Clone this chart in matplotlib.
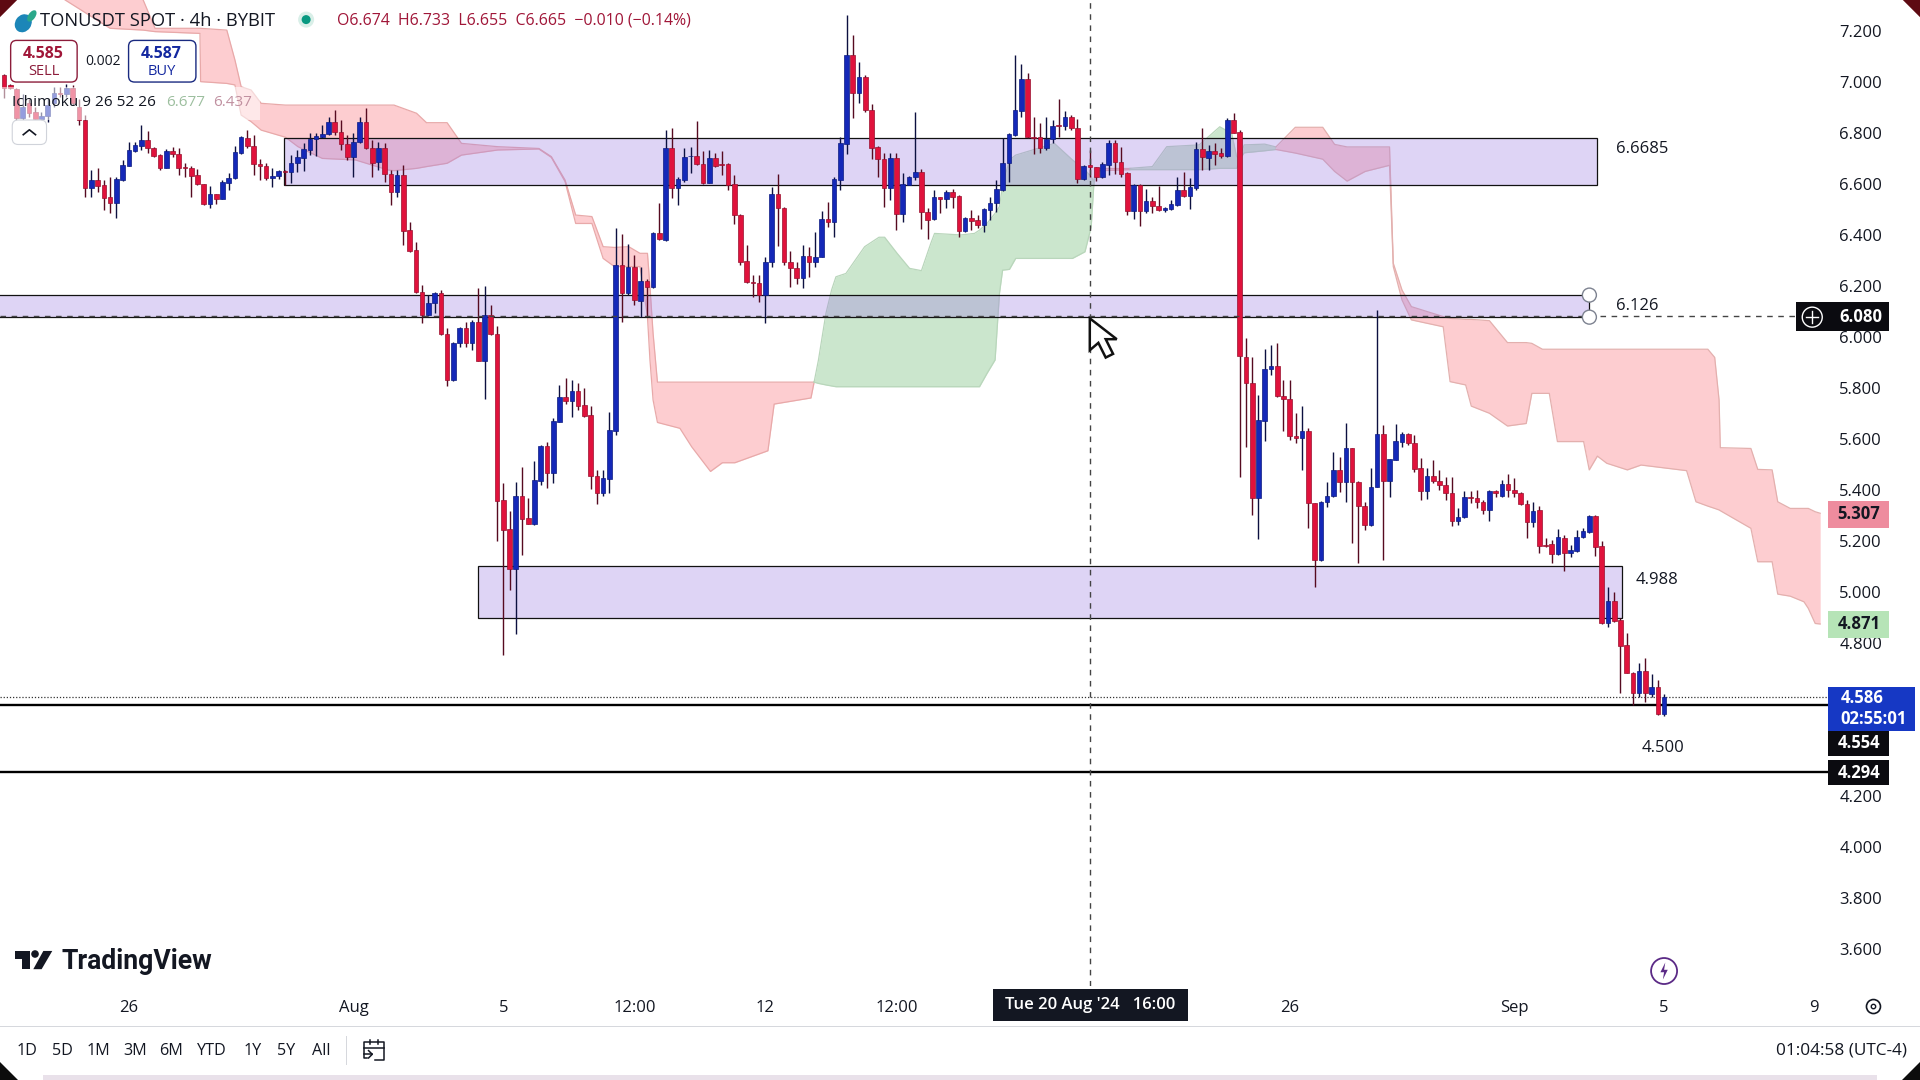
import matplotlib
matplotlib.use("Agg")
import matplotlib.pyplot as plt
import numpy as np
from matplotlib.patches import Circle, Ellipse, FancyBboxPatch, Polygon, Rectangle

plt.rcParams["font.family"] = ["Open Sans", "DejaVu Sans"]

# candle index 0 = 5 Aug 00:00, one step = 4h
first_idx = -80
opens = [
    7.026, 6.985, 6.970, 6.856, 6.915, 6.882, 6.852, 6.865, 6.915, 6.957,
    6.951, 6.974, 6.902, 6.850, 6.582, 6.614, 6.595, 6.546, 6.523, 6.614,
    6.670, 6.729, 6.749, 6.771, 6.738, 6.712, 6.663, 6.728, 6.716, 6.664,
    6.660, 6.634, 6.599, 6.519, 6.558, 6.541, 6.604, 6.621, 6.721, 6.780,
    6.749, 6.677, 6.669, 6.621, 6.630, 6.650, 6.644, 6.680, 6.702, 6.733,
    6.774, 6.782, 6.793, 6.843, 6.801, 6.755, 6.703, 6.765, 6.840, 6.738,
    6.684, 6.738, 6.637, 6.569, 6.634, 6.418, 6.340, 6.177, 6.085, 6.131,
    6.170, 6.009, 5.830, 5.974, 6.033, 5.974, 6.059, 5.906, 6.085, 6.009,
    5.360, 5.245, 5.091, 5.375, 5.288, 5.266, 5.436, 5.571, 5.467, 5.667,
    5.762, 5.749, 5.787, 5.732, 5.693, 5.456, 5.388, 5.443, 5.632, 6.281,
    6.170, 6.275, 6.140, 6.218, 6.196, 6.405, 6.379, 6.738, 6.582, 6.614,
    6.708, 6.708, 6.677, 6.604, 6.699, 6.676, 6.677, 6.597, 6.477, 6.297,
    6.216, 6.209, 6.164, 6.294, 6.558, 6.503, 6.294, 6.268, 6.229, 6.318,
    6.292, 6.314, 6.460, 6.451, 6.614, 6.755, 7.104, 6.954, 7.017, 6.889,
    6.745, 6.695, 6.584, 6.699, 6.480, 6.595, 6.627, 6.644, 6.488, 6.460,
    6.546, 6.539, 6.566, 6.552, 6.416, 6.464, 6.457, 6.438, 6.497, 6.523,
    6.575, 6.680, 6.791, 6.886, 7.010, 6.784, 6.784, 6.741, 6.774, 6.830,
    6.827, 6.863, 6.817, 6.617, 6.673, 6.664, 6.627, 6.673, 6.758, 6.684,
    6.640, 6.494, 6.595, 6.494, 6.532, 6.514, 6.497, 6.501, 6.516, 6.575,
    6.553, 6.582, 6.736, 6.702, 6.728, 6.719, 6.710, 6.850, 6.801, 5.922,
    5.817, 5.369, 5.671, 5.872, 5.886, 5.769, 5.754, 5.612, 5.602, 5.630,
    5.347, 5.125, 5.351, 5.377, 5.477, 5.432, 5.562, 5.432, 5.338, 5.262,
    5.412, 5.618, 5.434, 5.517, 5.589, 5.618, 5.582, 5.484, 5.396, 5.454,
    5.434, 5.419, 5.386, 5.279, 5.292, 5.370, 5.366, 5.351, 5.321, 5.395,
    5.377, 5.423, 5.399, 5.386, 5.343, 5.275, 5.321, 5.183, 5.186, 5.147,
    5.213, 5.151, 5.161, 5.216, 5.236, 5.297, 5.180, 4.879, 4.964, 4.889,
    4.791, 4.683, 4.602, 4.689, 4.600, 4.626, 4.523,
]
highs = [
    7.030, 6.990, 6.975, 6.950, 6.930, 6.900, 6.880, 6.930, 6.980, 6.980,
    6.990, 6.985, 6.930, 6.869, 6.654, 6.660, 6.614, 6.627, 6.627, 6.693,
    6.765, 6.765, 6.830, 6.808, 6.745, 6.715, 6.735, 6.745, 6.738, 6.682,
    6.669, 6.656, 6.600, 6.591, 6.560, 6.614, 6.640, 6.749, 6.787, 6.810,
    6.791, 6.695, 6.682, 6.660, 6.654, 6.654, 6.712, 6.732, 6.758, 6.797,
    6.797, 6.830, 6.860, 6.889, 6.850, 6.791, 6.797, 6.863, 6.895, 6.771,
    6.765, 6.758, 6.654, 6.654, 6.673, 6.451, 6.373, 6.203, 6.164, 6.177,
    6.183, 6.033, 5.980, 6.039, 6.059, 6.065, 6.190, 6.199, 6.124, 6.042,
    5.428, 5.317, 5.432, 5.490, 5.366, 5.513, 5.575, 5.588, 5.680, 5.811,
    5.839, 5.830, 5.820, 5.798, 5.728, 5.477, 5.477, 5.706, 6.425, 6.401,
    6.362, 6.320, 6.275, 6.225, 6.410, 6.523, 6.810, 6.817, 6.627, 6.738,
    6.745, 6.847, 6.729, 6.732, 6.719, 6.728, 6.680, 6.634, 6.480, 6.360,
    6.242, 6.242, 6.314, 6.586, 6.637, 6.507, 6.337, 6.294, 6.360, 6.353,
    6.412, 6.494, 6.529, 6.627, 6.782, 7.261, 7.183, 7.078, 7.026, 6.912,
    6.748, 6.721, 6.719, 6.721, 6.643, 6.630, 6.880, 6.657, 6.503, 6.575,
    6.549, 6.575, 6.578, 6.556, 6.470, 6.497, 6.477, 6.503, 6.549, 6.614,
    6.778, 6.797, 7.104, 7.069, 7.033, 6.860, 6.839, 6.860, 6.850, 6.932,
    6.886, 6.869, 6.852, 6.673, 6.732, 6.667, 6.686, 6.771, 6.771, 6.745,
    6.647, 6.597, 6.597, 6.578, 6.549, 6.591, 6.510, 6.536, 6.627, 6.647,
    6.621, 6.765, 6.817, 6.752, 6.758, 6.738, 6.856, 6.876, 6.810, 5.994,
    5.922, 5.771, 5.950, 5.967, 5.974, 5.830, 5.830, 5.700, 5.728, 5.641,
    5.350, 5.355, 5.432, 5.549, 5.530, 5.663, 5.565, 5.435, 5.353, 5.484,
    6.105, 5.654, 5.520, 5.658, 5.628, 5.624, 5.615, 5.523, 5.484, 5.517,
    5.477, 5.451, 5.451, 5.327, 5.396, 5.396, 5.399, 5.360, 5.399, 5.400,
    5.438, 5.460, 5.445, 5.392, 5.360, 5.353, 5.336, 5.210, 5.203, 5.245,
    5.223, 5.183, 5.242, 5.249, 5.301, 5.301, 5.200, 5.020, 4.998, 4.896,
    4.837, 4.687, 4.720, 4.739, 4.678, 4.654, 4.599,
]
lows = [
    6.934, 6.970, 6.850, 6.850, 6.860, 6.850, 6.840, 6.840, 6.900, 6.940,
    6.940, 6.910, 6.830, 6.549, 6.549, 6.569, 6.497, 6.484, 6.464, 6.610,
    6.668, 6.725, 6.732, 6.719, 6.705, 6.654, 6.660, 6.706, 6.634, 6.627,
    6.549, 6.595, 6.516, 6.503, 6.520, 6.540, 6.575, 6.620, 6.716, 6.738,
    6.634, 6.614, 6.614, 6.588, 6.620, 6.595, 6.601, 6.647, 6.651, 6.712,
    6.708, 6.780, 6.790, 6.791, 6.732, 6.693, 6.627, 6.758, 6.735, 6.627,
    6.654, 6.608, 6.516, 6.549, 6.360, 6.333, 6.170, 6.052, 6.080, 6.092,
    6.007, 5.807, 5.828, 5.961, 5.961, 5.948, 5.905, 5.756, 6.007, 5.199,
    4.752, 5.007, 4.834, 5.144, 5.264, 5.262, 5.419, 5.409, 5.425, 5.665,
    5.736, 5.686, 5.713, 5.686, 5.403, 5.345, 5.377, 5.386, 5.615, 6.059,
    6.165, 6.124, 6.079, 6.081, 6.193, 6.380, 6.376, 6.542, 6.516, 6.608,
    6.640, 6.673, 6.599, 6.601, 6.667, 6.634, 6.575, 6.442, 6.281, 6.212,
    6.157, 6.137, 6.055, 6.275, 6.356, 6.281, 6.194, 6.207, 6.190, 6.235,
    6.275, 6.311, 6.431, 6.392, 6.575, 6.716, 6.856, 6.915, 6.882, 6.695,
    6.627, 6.510, 6.536, 6.418, 6.451, 6.593, 6.614, 6.422, 6.382, 6.457,
    6.484, 6.503, 6.503, 6.390, 6.412, 6.418, 6.425, 6.412, 6.457, 6.490,
    6.572, 6.608, 6.785, 6.863, 6.780, 6.716, 6.721, 6.732, 6.758, 6.782,
    6.810, 6.810, 6.601, 6.614, 6.627, 6.612, 6.621, 6.634, 6.638, 6.627,
    6.477, 6.460, 6.434, 6.484, 6.484, 6.494, 6.490, 6.497, 6.514, 6.549,
    6.499, 6.575, 6.654, 6.654, 6.673, 6.699, 6.706, 6.797, 5.451, 5.569,
    5.301, 5.206, 5.592, 5.850, 5.765, 5.632, 5.595, 5.582, 5.477, 5.249,
    5.020, 5.120, 5.331, 5.373, 5.392, 5.353, 5.190, 5.112, 5.242, 5.260,
    5.410, 5.125, 5.373, 5.515, 5.569, 5.575, 5.471, 5.360, 5.362, 5.425,
    5.399, 5.360, 5.258, 5.262, 5.288, 5.347, 5.327, 5.307, 5.277, 5.373,
    5.373, 5.373, 5.373, 5.340, 5.210, 5.255, 5.151, 5.177, 5.114, 5.144,
    5.083, 5.138, 5.157, 5.213, 5.229, 5.140, 4.874, 4.861, 4.883, 4.602,
    4.683, 4.556, 4.589, 4.569, 4.589, 4.517, 4.514,
]
closes = [
    6.974, 6.975, 6.856, 6.902, 6.876, 6.852, 6.865, 6.908, 6.957, 6.950,
    6.974, 6.917, 6.850, 6.582, 6.614, 6.591, 6.545, 6.523, 6.618, 6.673,
    6.732, 6.752, 6.771, 6.738, 6.710, 6.663, 6.729, 6.715, 6.663, 6.660,
    6.631, 6.597, 6.519, 6.558, 6.541, 6.608, 6.621, 6.723, 6.782, 6.748,
    6.676, 6.669, 6.621, 6.630, 6.651, 6.647, 6.680, 6.703, 6.736, 6.774,
    6.787, 6.793, 6.843, 6.801, 6.754, 6.703, 6.765, 6.840, 6.738, 6.682,
    6.738, 6.637, 6.569, 6.634, 6.416, 6.337, 6.177, 6.085, 6.131, 6.170,
    6.009, 5.830, 5.974, 6.033, 5.974, 6.059, 5.906, 6.085, 6.009, 5.357,
    5.242, 5.091, 5.375, 5.287, 5.266, 5.438, 5.571, 5.467, 5.669, 5.762,
    5.749, 5.787, 5.730, 5.690, 5.455, 5.388, 5.445, 5.634, 6.281, 6.170,
    6.275, 6.144, 6.218, 6.196, 6.405, 6.382, 6.738, 6.582, 6.618, 6.703,
    6.710, 6.676, 6.604, 6.699, 6.670, 6.674, 6.595, 6.477, 6.294, 6.216,
    6.209, 6.164, 6.294, 6.559, 6.503, 6.294, 6.268, 6.229, 6.318, 6.292,
    6.314, 6.460, 6.451, 6.617, 6.758, 7.104, 6.954, 7.017, 6.889, 6.741,
    6.695, 6.584, 6.699, 6.480, 6.597, 6.627, 6.644, 6.488, 6.458, 6.546,
    6.539, 6.566, 6.549, 6.416, 6.464, 6.455, 6.438, 6.499, 6.525, 6.578,
    6.680, 6.795, 6.889, 7.010, 6.782, 6.780, 6.741, 6.774, 6.827, 6.827,
    6.863, 6.817, 6.617, 6.670, 6.667, 6.627, 6.677, 6.761, 6.684, 6.638,
    6.494, 6.595, 6.494, 6.532, 6.514, 6.497, 6.503, 6.519, 6.575, 6.553,
    6.586, 6.736, 6.703, 6.728, 6.716, 6.708, 6.850, 6.800, 5.924, 5.817,
    5.369, 5.673, 5.873, 5.886, 5.769, 5.754, 5.612, 5.602, 5.630, 5.347,
    5.125, 5.353, 5.377, 5.477, 5.432, 5.562, 5.432, 5.338, 5.262, 5.412,
    5.618, 5.434, 5.519, 5.591, 5.618, 5.582, 5.481, 5.396, 5.454, 5.434,
    5.419, 5.386, 5.279, 5.292, 5.370, 5.366, 5.351, 5.321, 5.395, 5.389,
    5.423, 5.399, 5.386, 5.343, 5.275, 5.318, 5.181, 5.181, 5.147, 5.213,
    5.151, 5.164, 5.216, 5.240, 5.297, 5.177, 4.876, 4.964, 4.887, 4.789,
    4.683, 4.602, 4.689, 4.602, 4.626, 4.521, 4.586,
]

# ichimoku cloud, read section by section
red_a_x = [-70.2, -63.0, -57.7, -55.8, -48.6, -48.5, -44.3, -43.0, -42.0, -40.4, -38.8, -34.9, -32.9, -29.0, -23.7, -18.5, -17.5, -13.9, -12.3, -9.0, -6.7, -0.9, 5.7, 7.7, 9.9, 11.6, 14.2, 16.0, 17.8, 20.1, 21.9, 23.1, 23.5, 24.0, 24.7, 28.3, 30.2, 33.2, 35.1, 37.1, 42.4, 43.4, 49.3, 49.8]
red_a_top = [7.45, 7.45, 7.32, 7.209, 7.209, 7.209, 7.202, 7.085, 6.980, 6.967, 6.915, 6.908, 6.908, 6.908, 6.908, 6.908, 6.908, 6.876, 6.839, 6.839, 6.758, 6.745, 6.738, 6.706, 6.614, 6.477, 6.471, 6.353, 6.350, 6.353, 6.327, 6.327, 6.196, 6.013, 5.822, 5.822, 5.822, 5.822, 5.822, 5.822, 5.822, 5.822, 5.822, 5.822]
red_a_bot = [7.32, 7.209, 7.202, 7.196, 7.189, 7.000, 6.993, 6.987, 6.869, 6.843, 6.810, 6.782, 6.745, 6.699, 6.693, 6.654, 6.651, 6.660, 6.667, 6.680, 6.712, 6.732, 6.736, 6.703, 6.608, 6.444, 6.444, 6.307, 6.275, 6.275, 6.275, 6.079, 5.909, 5.752, 5.664, 5.641, 5.568, 5.472, 5.506, 5.506, 5.553, 5.736, 5.760, 5.822]

green_a_x = [49.8, 50.5, 51.7, 52.6, 53.3, 54.9, 57.9, 60.2, 61.1, 63.1, 65.1, 67.0, 68.5, 69.1, 73.3, 75.5, 76.3, 77.5, 78.8, 79.5, 80.0, 81.1, 82.1, 88.3, 91.2, 93.2, 94.2, 94.6, 94.9]
green_a_top = [5.822, 5.909, 6.092, 6.183, 6.235, 6.248, 6.353, 6.390, 6.390, 6.327, 6.268, 6.259, 6.366, 6.405, 6.399, 6.405, 6.418, 6.444, 6.484, 6.510, 6.595, 6.693, 6.712, 6.758, 6.693, 6.654, 6.627, 6.608, 6.660]
green_a_bot = [5.822, 5.817, 5.811, 5.807, 5.804, 5.804, 5.804, 5.804, 5.804, 5.804, 5.804, 5.804, 5.804, 5.804, 5.804, 5.804, 5.804, 5.856, 5.909, 6.170, 6.261, 6.264, 6.307, 6.307, 6.307, 6.333, 6.431, 6.588, 6.650]

red_b_x = [94.9, 100.4]
red_b_top = [6.660, 6.660]
red_b_bot = [6.650, 6.655]

green_b_x = [100.4, 104.0, 106.3, 111.5, 114.8, 116.7, 117.5, 118.0, 118.7, 122.0, 123.8]
green_b_top = [6.660, 6.667, 6.745, 6.752, 6.823, 6.797, 6.706, 6.700, 6.752, 6.755, 6.744]
green_b_bot = [6.655, 6.655, 6.655, 6.655, 6.660, 6.660, 6.660, 6.695, 6.721, 6.729, 6.734]

red_c_x = [123.8, 126.9, 131.3, 133.2, 135.2, 138.1, 142.0, 142.6, 144.0, 145.5, 150.6, 151.7, 154.2, 155.1, 158.0, 160.9, 163.9, 164.8, 166.5, 167.6, 168.9, 173.1, 174.0, 175.3, 176.8, 180.1, 182.3, 189.6, 191.1, 193.0, 194.1, 194.8, 195.0, 199.9, 201.0, 203.3, 204.2, 206.2, 208.4, 209.1, 210.2, 211.0]
red_c_top = [6.744, 6.821, 6.821, 6.754, 6.744, 6.744, 6.744, 6.288, 6.183, 6.118, 6.079, 6.072, 6.068, 6.068, 6.063, 5.977, 5.977, 5.974, 5.951, 5.951, 5.951, 5.951, 5.951, 5.951, 5.951, 5.951, 5.951, 5.951, 5.951, 5.951, 5.919, 5.752, 5.565, 5.562, 5.480, 5.478, 5.353, 5.327, 5.327, 5.327, 5.314, 5.308]
red_c_bot = [6.734, 6.720, 6.696, 6.648, 6.610, 6.648, 6.672, 6.275, 6.144, 6.066, 6.039, 5.824, 5.811, 5.728, 5.700, 5.650, 5.660, 5.778, 5.778, 5.778, 5.589, 5.589, 5.478, 5.532, 5.504, 5.478, 5.497, 5.475, 5.353, 5.336, 5.327, 5.321, 5.318, 5.249, 5.118, 5.118, 4.991, 4.983, 4.961, 4.935, 4.876, 4.874]

# drawn zones: start, end, upper, lower
zone_a = (-35.1, 175.2, 6.780, 6.595)
zone_b = (-90.0, 174.0, 6.163, 6.077)
zone_c = (-4.1, 179.3, 5.102, 4.896)
price_ticks = [7.2, 7.0, 6.8, 6.6, 6.4, 6.2, 6.0, 5.8, 5.6, 5.4, 5.2, 5.0, 4.8, 4.2, 4.0, 3.8, 3.6]
time_ticks = [-60, -24, 0, 21, 42, 63, 126, 162, 186, 210]
time_labels = ["26", "Aug", "5", "12:00", "12", "12:00", "26", "Sep", "5", "9"]
range_labels = ["1D", "5D", "1M", "3M", "6M", "YTD", "1Y", "5Y", "All"]
range_pos = [22, 51, 80, 110, 140, 173, 206, 234, 262]

BLUE = "#1428b8"
RED = "#e0123c"
CLOUD_RED = "#fdcdd0"
CLOUD_GREEN = "#cbe6cd"
ZONE = "#a182e2"
W, H = 1568.0, 882.0
PX = 1920 / W


def fx(px):
    return px / W


def fy(py):
    return 1 - py / H


def label(px, py, s, **kw):
    kw.setdefault("ha", "left")
    kw.setdefault("va", "center")
    kw.setdefault("color", "#131722")
    kw.setdefault("fontsize", 11)
    return fig.text(fx(px), fy(py), s, **kw)


def box(px0, py0, px1, py1, **kw):
    r = Rectangle((fx(px0), fy(py1)), fx(px1) - fx(px0), fy(py0) - fy(py1),
                  transform=fig.transFigure, **kw)
    fig.add_artist(r)
    return r


def round_box(px0, py0, px1, py1, **kw):
    # device coords, so the rounding stays round
    r = FancyBboxPatch((px0 * PX, (H - py1) * PX), (px1 - px0) * PX, (py1 - py0) * PX,
                       boxstyle="round,pad=0,rounding_size=6", transform=None, **kw)
    fig.add_artist(r)
    return r


def dot(px, py, r, **kw):
    c = Circle((px * PX, (H - py) * PX), r, transform=None, **kw)
    fig.add_artist(c)
    return c


def poly(points, **kw):
    p = Polygon([(fx(a), fy(b)) for a, b in points], transform=fig.transFigure, **kw)
    fig.add_artist(p)
    return p


def stroke(points, **kw):
    fig.add_artist(plt.Line2D([fx(a) for a, _ in points], [fy(b) for _, b in points], **kw))


fig = plt.figure(figsize=(19.2, 10.8), dpi=100, facecolor="white")
ax = fig.add_axes([0, 1 - 805 / H, 1493 / W, 805 / H])
ax.set_xlim(-80.64, 212.28)
ax.set_ylim(3.456, 7.32)
for s in ax.spines.values():
    s.set_visible(False)

# cloud
for xs, top, bot, col, edge in [
    (red_a_x, red_a_top, red_a_bot, CLOUD_RED, "#e8a9a9"),
    (green_a_x, green_a_top, green_a_bot, CLOUD_GREEN, "#b9d6bb"),
    (red_b_x, red_b_top, red_b_bot, CLOUD_RED, "#e8a9a9"),
    (green_b_x, green_b_top, green_b_bot, CLOUD_GREEN, "#b9d6bb"),
    (red_c_x, red_c_top, red_c_bot, CLOUD_RED, "#e3b0ae"),
]:
    ax.fill_between(xs, top, bot, color=col, lw=0, zorder=1)
    ax.plot(xs, top, color=edge, lw=0.9, zorder=1)
    ax.plot(xs, bot, color=edge, lw=0.9, zorder=1)

# zones
for x0, x1, top_, lo_ in [zone_a, zone_b, zone_c]:
    ax.add_patch(Rectangle((x0, lo_), x1 - x0, top_ - lo_, fc=ZONE, alpha=0.34, lw=0, zorder=2))
    ax.add_patch(Rectangle((x0, lo_), x1 - x0, top_ - lo_, fc="none", ec="#111111", lw=0.9, zorder=2))

# reference lines
ax.axhline(4.556, color="#000000", lw=1.7, zorder=2)
ax.axhline(4.294, color="#000000", lw=1.7, zorder=2)
ax.axhline(4.586, color="#333333", lw=0.9, ls=(0, (1, 1.5)), zorder=2)
ax.axvline(94, color="#444444", lw=1, ls=(0, (4, 4)), zorder=5)
ax.plot([-80.64, 212.28], [6.08, 6.08], color="#444444", lw=1, ls=(0, (4, 4)), zorder=5)

# candles
x = np.arange(first_idx, first_idx + len(opens))
o, h, l, c = map(np.array, (opens, highs, lows, closes))
up = c >= o
ax.vlines(x[up], l[up], h[up], color="#0c1040", lw=1.0, zorder=3)
ax.vlines(x[~up], l[~up], h[~up], color="#560a20", lw=1.0, zorder=3)
ax.bar(x[up], np.abs(c - o)[up], bottom=np.minimum(o, c)[up], width=0.74,
       color=BLUE, edgecolor="#0c1a80", lw=0.5, zorder=4)
ax.bar(x[~up], np.abs(c - o)[~up], bottom=np.minimum(o, c)[~up], width=0.74,
       color=RED, edgecolor="#98102e", lw=0.5, zorder=4)

# axes text
ax.yaxis.tick_right()
ax.set_yticks(price_ticks, [f"{p:.3f}" for p in price_ticks])
ax.set_xticks(time_ticks, time_labels)
ax.tick_params(axis="both", length=0, labelsize=12, colors="#131722")
ax.tick_params(axis="y", pad=8)
ax.tick_params(axis="x", pad=10)

# zone value labels
for px, py, s in [(1320, 121, "6.6685"), (1320, 249, "6.126"), (1336, 473, "4.988"), (1341, 610, "4.500")]:
    label(px, py + 0.5, s, fontsize=12)
for py in (241, 259):
    dot(1298, py, 7, fc="white", ec="#7d8290", lw=1, zorder=6)

# price tags
box(1493, 409, 1543, 431, fc="#ee8c9e", ec="none")
label(1518, 420, "5.307", ha="center", fontweight="bold", fontsize=12)
box(1493, 499, 1543, 521, fc="#b6e4b7", ec="none")
label(1518, 510, "4.871", ha="center", fontweight="bold", fontsize=12)
box(1493, 561, 1564, 597, fc="#1638c4", ec="none")
label(1503, 570, "4.586", color="white", fontweight="bold", fontsize=12)
label(1503, 587, "02:55:01", color="white", fontweight="bold", fontsize=12)
box(1493, 597, 1543, 617, fc="#0b0b10", ec="none")
label(1518, 607, "4.554", ha="center", color="white", fontweight="bold", fontsize=12)
box(1493, 621, 1543, 641, fc="#0b0b10", ec="none")
label(1518, 631, "4.294", ha="center", color="white", fontweight="bold", fontsize=12)
box(1467, 247, 1543, 270, fc="#0b0b10", ec="none")
label(1520, 259, "6.080", ha="center", color="white", fontweight="bold", fontsize=12)
dot(1480, 259, 10, fc="none", ec="white", lw=1)
stroke([(1475, 259), (1485, 259)], color="white", lw=1)
stroke([(1480, 254), (1480, 264)], color="white", lw=1)

# header, the overlay fades what sits behind it
box(0, 71, 212, 98, fc="white", ec="none", alpha=0.55)
fig.add_artist(Ellipse((19 * PX, (H - 19) * PX), 16, 19, angle=-35, transform=None, fc="#1c86b8", ec="none"))
fig.add_artist(Ellipse((26 * PX, (H - 13) * PX), 7, 13, angle=-35, transform=None, fc="#2aa88a", ec="none"))
label(32.5, 17, "TONUSDT SPOT · 4h · BYBIT", fontsize=13.2)
dot(250, 16, 8, fc="#d9efe8", ec="none")
dot(250, 16, 4.5, fc="#089981", ec="none")
label(275, 17, "O6.674  H6.733  L6.655  C6.665  −0.010 (−0.14%)", color="#a01638", fontsize=11.4)
round_box(8.7, 33, 63, 67, fc="white", ec="#8c1c3a", lw=1)
label(35.5, 44, "4.585", ha="center", color="#a01638", fontweight="bold", fontsize=11.5)
label(35.5, 58, "SELL", ha="center", color="#8c1c3a", fontsize=10.5)
label(84, 50, "0.002", ha="center", fontsize=10)
round_box(105, 33, 160, 67, fc="white", ec="#1a2a80", lw=1)
label(132, 44, "4.587", ha="center", color="#1428a0", fontweight="bold", fontsize=11.5)
label(132, 58, "BUY", ha="center", color="#1428a0", fontsize=10.5)
label(10, 84, "Ichimoku 9 26 52 26", fontsize=11.1)
label(136, 84, "6.677", color="#9dbf9f", fontsize=11)
label(174, 84, "6.437", color="#c090a0", fontsize=11)
round_box(10, 98, 38, 118, fc="white", ec="#d0d3da", lw=0.8)
stroke([(19, 110), (24, 106), (29, 110)], color="#131722", lw=1.2)

# mouse pointer
poly([(890, 260), (890, 286), (897, 280), (903, 292), (909, 289), (903, 277), (912, 277)],
     fc="white", ec="#111111", lw=1.8, zorder=7)

# watermark
poly([(12.2, 776.6), (24.5, 776.6), (24.5, 791.5), (17.7, 791.5), (17.7, 782.8), (12.2, 782.8)], fc="#131722", ec="none")
dot(28.6, 779.1, 3.8, fc="#131722", ec="none")
poly([(35.4, 776.6), (42.7, 776.6), (34, 791.5), (27.2, 791.5)], fc="#131722", ec="none")
label(50, 785, "TradingView", fontsize=19.2, fontweight="bold", family=["Roboto", "DejaVu Sans"])

# lightning and gear
dot(1359, 793, 13, fc="white", ec="#5b2a86", lw=1.3)
poly([(1360, 786), (1356, 794), (1359, 794), (1358, 800), (1362, 792), (1359, 792)], fc="#5b2a86", ec="none")
dot(1530, 822, 7, fc="white", ec="#131722", lw=1.2)
dot(1530, 822, 2.2, fc="white", ec="#131722", lw=1)

# crosshair time tag
box(811, 808, 970, 834, fc="#131722", ec="none", zorder=6)
label(890, 821, "Tue 20 Aug '24   16:00", ha="center", color="white", fontsize=12, fontweight="semibold", zorder=7)

# bottom bar
box(0, 837.5, W, 838.5, fc="#d6d8dd", ec="none")
for px, s in zip(range_pos, range_labels):
    label(px, 858, s, ha="center", fontsize=11.6)
box(282.5, 846, 283.5, 870, fc="#d6d8dd", ec="none")
# calendar icon
stroke([(300, 864), (297, 864), (297, 851), (314, 851), (314, 866), (306, 866)], color="#131722", lw=1.1)
stroke([(297, 855.5), (314, 855.5)], color="#131722", lw=1.1)
stroke([(302, 849), (302, 853)], color="#131722", lw=1.1)
stroke([(309, 849), (309, 853)], color="#131722", lw=1.1)
stroke([(297, 861), (304, 861)], color="#131722", lw=1.1)
stroke([(301, 858), (304, 861), (301, 864)], color="#131722", lw=1.1)
label(1557, 858, "01:04:58 (UTC-4)", ha="right", fontsize=12.4)

# video frame: rounded corners and the strip under it
box(35, 878, 1533, 882, fc="#e9e1ea", ec="none")
poly([(0, 867), (0, 882), (15, 882)], fc="#0c0c0c", ec="none")
poly([(W, 867), (W, 882), (W - 15, 882)], fc="#0c0c0c", ec="none")
poly([(0, 0), (0, 14), (14, 0)], fc="#5e0a12", ec="none")
poly([(W, 0), (W, 14), (W - 14, 0)], fc="#5e0a12", ec="none")

fig.savefig("out.png", dpi=100)
